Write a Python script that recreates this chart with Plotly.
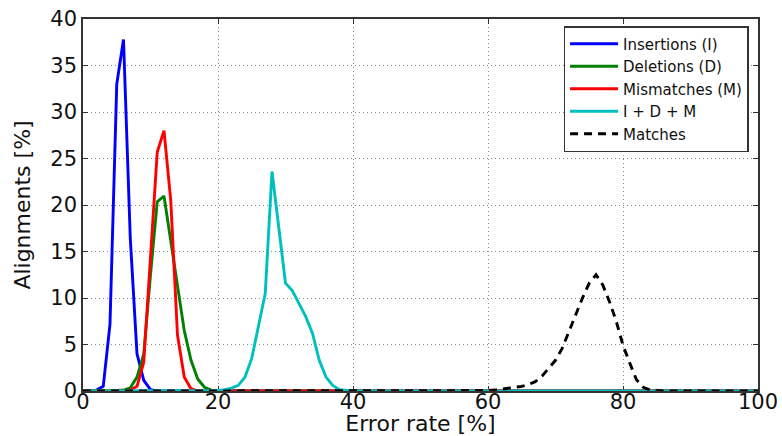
import plotly.graph_objects as go

# Error rate [%] grid positions and alignment percentages
ins_x = [0, 1, 2, 3, 4, 5, 6, 7, 8, 9, 10, 11, 100]
ins_y = [0, 0, 0.1, 0.5, 7.2, 33.0, 37.8, 16.5, 4.0, 1.15, 0.15, 0, 0]

del_x = [0, 4, 5, 6, 7, 8, 9, 10, 11, 12, 13, 14, 15, 16, 17, 18, 19, 20, 100]
del_y = [0, 0, 0.05, 0.1, 0.35, 1.5, 4.0, 12.5, 20.35, 20.96, 16.2, 11.2, 6.5, 3.3, 1.3, 0.4, 0.1, 0, 0]

mis_x = [0, 6, 7, 8, 9, 10, 11, 12, 13, 14, 15, 16, 17, 100]
mis_y = [0, 0, 0.1, 0.5, 3.1, 14.0, 25.7, 28.0, 20.5, 6.0, 1.5, 0.25, 0, 0]

idm_x = [0, 19, 20, 21, 22, 23, 24, 25, 26, 27, 28, 29, 30, 31, 32, 33, 34, 35, 36, 37, 38, 39, 40, 100]
idm_y = [0, 0, 0.05, 0.15, 0.3, 0.6, 1.5, 3.5, 6.9, 10.5, 23.6, 17.7, 11.6, 10.8, 9.4, 8.0, 6.2, 3.3, 1.5, 0.6, 0.15, 0.05, 0, 0]

mat_x = [0, 59, 60, 61, 62, 63, 64, 65, 66, 67, 68, 69, 70, 71, 72, 73, 74, 75, 76, 77,
         78, 79, 80, 81, 82, 83, 84, 85, 86, 100]
mat_y = [0, 0, 0.05, 0.1, 0.2, 0.3, 0.4, 0.5, 0.7, 1.0, 1.6, 2.4, 3.3, 4.6, 6.4, 8.3, 10.0, 11.6, 12.5, 11.4,
         9.6, 7.5, 4.9, 3.0, 1.2, 0.4, 0.1, 0.05, 0, 0]

series_names = ["Insertions (I)", "Deletions (D)", "Mismatches (M)", "I + D + M", "Matches"]
series_colors = ["#0000ff", "#008000", "#ff0000", "#00bfbf", "#000000"]

x_ticks = [0, 20, 40, 60, 80, 100]
y_ticks = [0, 5, 10, 15, 20, 25, 30, 35, 40]

FONT = "DejaVu Sans"

fig = go.Figure()
data = [(ins_x, ins_y), (del_x, del_y), (mis_x, mis_y), (idm_x, idm_y), (mat_x, mat_y)]
for (xs, ys), name, col in zip(data, series_names, series_colors):
    fig.add_trace(go.Scatter(
        x=xs, y=ys, mode="lines", name=name,
        line=dict(color=col, width=2.9, dash="8px,6px" if name == "Matches" else "solid"),
        cliponaxis=False,
    ))

axis_common = dict(
    showline=True, linecolor="#333333", linewidth=1.5, mirror="allticks",
    ticks="inside", ticklen=5, tickcolor="#333333", tickwidth=1,
    showgrid=True, gridcolor="#8a8a8a", gridwidth=1, griddash="1px,3px",
    zeroline=False, automargin=False, layer="below traces",
    tickfont=dict(family=FONT, size=21, color="#111111"),
)

fig.update_xaxes(
    range=[0, 100], tickvals=x_ticks, ticktext=[str(v) for v in x_ticks],
    ticklabelstandoff=-9,
    title=dict(text="Error rate [%]", font=dict(family=FONT, size=22, color="#111111")),
    **axis_common,
)
fig.update_yaxes(
    range=[0, 40], tickvals=y_ticks, ticktext=[str(v) for v in y_ticks],
    title=dict(text="Alignments [%]", font=dict(family=FONT, size=22, color="#111111"), standoff=14),
    **axis_common,
)

fig.update_layout(
    width=782, height=436,
    margin=dict(l=83, r=24, t=19, b=45),
    paper_bgcolor="white", plot_bgcolor="white",
    font=dict(family=FONT, color="#111111"),
    showlegend=True,
    legend=dict(
        x=0.986, y=0.981, xanchor="right", yanchor="top",
        bgcolor="white", bordercolor="#333333", borderwidth=1.5,
        font=dict(family=FONT, size=15, color="#111111"),
        tracegroupgap=0, itemwidth=48,
    ),
)

fig.write_html(
    "out.html",
    config={"displayModeBar": False},
    post_script="document.body.style.margin='0px';document.body.style.overflow='hidden';",
)
